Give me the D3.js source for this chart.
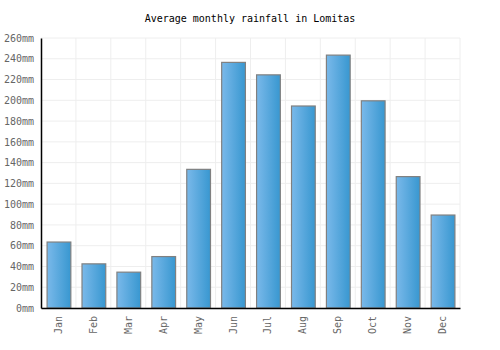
<!DOCTYPE html>
<html>
<head>
<meta charset="utf-8">
<script src="https://cdn.jsdelivr.net/npm/d3@7"></script>
<style>
  body { margin: 0; background: #fff; }
  text { font-family: "DejaVu Sans Mono", monospace; }
</style>
</head>
<body>
<svg id="chart" width="500" height="350"></svg>
<script>
// Data
const months = ['Jan', 'Feb', 'Mar', 'Apr', 'May', 'Jun', 'Jul', 'Aug', 'Sep', 'Oct', 'Nov', 'Dec'];
const rainfall = [64, 43, 35, 50, 134, 237, 225, 195, 244, 200, 127, 90];
const yTicks = [0, 20, 40, 60, 80, 100, 120, 140, 160, 180, 200, 220, 240, 260];

const WIDTH = 500;
const HEIGHT = 350;
const MARGIN = { left: 41, right: 40, top: 38, bottom: 42 };

const svg = d3.select('#chart');

// gradient for bars
const grad = svg.append('defs').append('linearGradient')
  .attr('id', 'barGrad')
  .attr('x1', '0%').attr('x2', '100%').attr('y1', '0%').attr('y2', '0%');
grad.append('stop').attr('offset', '0%').attr('stop-color', '#7ab9ea');
grad.append('stop').attr('offset', '100%').attr('stop-color', '#3897d0');

// Scales
const xScale = d3.scaleBand()
  .domain(months)
  .range([MARGIN.left, WIDTH - MARGIN.right])
  .paddingInner(0.32)
  .paddingOuter(0.16);

const yScale = d3.scaleLinear()
  .domain([0, 260])
  .range([HEIGHT - MARGIN.bottom, MARGIN.top]);

// Grid lines
const grid = svg.append('g');
grid.selectAll('.hgrid')
  .data(yTicks)
  .join('line')
  .attr('class', 'hgrid')
  .attr('x1', MARGIN.left)
  .attr('x2', WIDTH - MARGIN.right)
  .attr('y1', d => yScale(d))
  .attr('y2', d => yScale(d))
  .attr('stroke', '#eeeeee');

const step = xScale.step();
const vLines = months.map((m, i) => i + 1);
grid.selectAll('.vgrid')
  .data(vLines)
  .join('line')
  .attr('class', 'vgrid')
  .attr('x1', d => MARGIN.left + d * step)
  .attr('x2', d => MARGIN.left + d * step)
  .attr('y1', MARGIN.top)
  .attr('y2', HEIGHT - MARGIN.bottom)
  .attr('stroke', '#eeeeee');

// Bars
svg.append('g').selectAll('rect')
  .data(rainfall)
  .join('rect')
  .attr('x', (d, i) => xScale(months[i]) + 0.5)
  .attr('y', d => yScale(d) + 0.5)
  .attr('width', xScale.bandwidth())
  .attr('height', d => yScale(0) - yScale(d) - 0.5)
  .attr('fill', 'url(#barGrad)')
  .attr('stroke', '#808080')
  .attr('stroke-width', 1.2);

// Axes
const yAxis = d3.axisLeft(yScale)
  .tickValues(yTicks)
  .tickSize(0)
  .tickPadding(7)
  .tickFormat(d => d + 'mm');

svg.append('g')
  .attr('transform', `translate(${MARGIN.left},0)`)
  .call(yAxis)
  .call(g => g.select('.domain').attr('stroke', '#000').attr('stroke-width', 1.5))
  .call(g => g.selectAll('text').attr('fill', '#666').style('font-size', '10px'));

const xAxis = d3.axisBottom(xScale).tickSize(0);

svg.append('g')
  .attr('transform', `translate(0,${HEIGHT - MARGIN.bottom})`)
  .call(xAxis)
  .call(g => g.select('.domain').attr('stroke', '#000').attr('stroke-width', 1.5))
  .call(g => g.selectAll('text')
    .attr('fill', '#666')
    .style('font-size', '10px')
    .attr('transform', 'rotate(-90)')
    .attr('text-anchor', 'end')
    .attr('x', -8)
    .attr('y', 0)
    .attr('dy', '0.35em'));

// Title
svg.append('text')
  .attr('x', WIDTH / 2)
  .attr('y', 22)
  .attr('text-anchor', 'middle')
  .style('font-size', '10px')
  .attr('fill', '#000')
  .text('Average monthly rainfall in Lomitas');
</script>
</body>
</html>
